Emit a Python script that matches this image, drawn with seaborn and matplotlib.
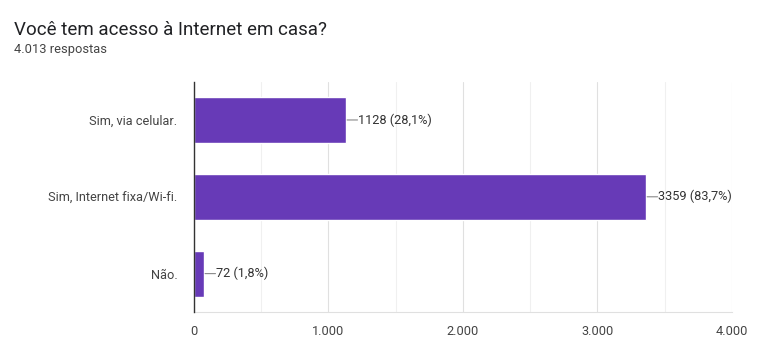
import matplotlib
matplotlib.use("Agg")
import matplotlib.pyplot as plt
import seaborn as sns
import pandas as pd
from matplotlib.ticker import MultipleLocator, FuncFormatter

# Data
categories = ["Sim, via celular.", "Sim, Internet fixa/Wi-fi.", "Não."]
counts = [1128, 3359, 72]
percents = ["28,1%", "83,7%", "1,8%"]
total_label = "4.013 respostas"
title = "Você tem acesso à Internet em casa?"

df = pd.DataFrame({"resposta": categories, "n": counts})

sns.set_style("white")
plt.rcParams["font.family"] = ["Roboto", "DejaVu Sans"]

fig = plt.figure(figsize=(7.68, 3.54), dpi=100)
ax = fig.add_axes([0.2526, 0.1186, 0.7005, 0.651])

purple = "#673ab7"
sns.barplot(data=df, x="n", y="resposta", order=categories, color=purple,
            width=0.6, saturation=1, ax=ax, zorder=3)

ax.set_xlim(0, 4000)
ax.xaxis.set_major_locator(MultipleLocator(1000))
ax.xaxis.set_minor_locator(MultipleLocator(500))
ax.xaxis.set_major_formatter(FuncFormatter(lambda v, p: f"{int(v):,}".replace(",", ".")))
ax.grid(axis="x", which="major", color="#e0e0e0", lw=0.8, zorder=0)
ax.grid(axis="x", which="minor", color="#f0f0f0", lw=0.8, zorder=0)
ax.set_xlabel("")
ax.set_ylabel("")

for s in ["top", "right"]:
    ax.spines[s].set_visible(False)
ax.spines["bottom"].set_color("#e0e0e0")
ax.spines["left"].set_color("#333333")
ax.spines["left"].set_linewidth(1.0)
ax.spines["left"].set_zorder(5)

ax.tick_params(axis="both", length=0, labelsize=9.2, colors="#444444")
ax.tick_params(axis="x", pad=9)
ax.tick_params(axis="y", pad=12)

# value annotations with small leader lines
for i, (c, p) in enumerate(zip(counts, percents)):
    ax.annotate(f"{c} ({p})", xy=(c, i), xytext=(9, 0), textcoords="offset points",
                va="center", ha="left", fontsize=9.2, color="#333333",
                arrowprops=dict(arrowstyle="-", color="#888888", lw=0.8,
                                patchA=None, relpos=(0, 0.5),
                                shrinkA=0.5, shrinkB=1))

fig.text(14 / 768, 1 - 30 / 354, title, fontsize=13.5, color="#202124", va="center")
fig.text(14 / 768, 1 - 50 / 354, total_label, fontsize=9.3, color="#444444", va="center")

fig.savefig("out.png", dpi=100)
